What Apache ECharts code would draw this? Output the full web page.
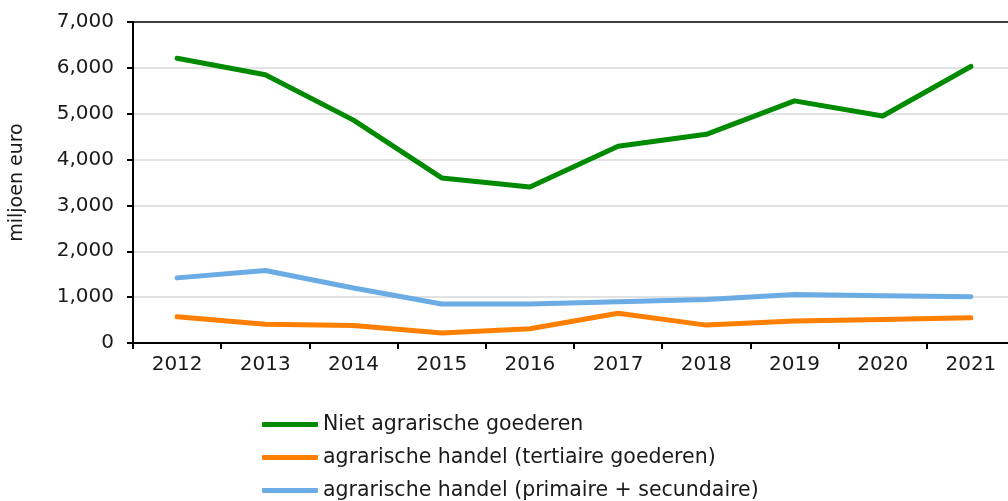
<!DOCTYPE html>
<html>
<head>
<meta charset="utf-8">
<script src="https://cdn.jsdelivr.net/npm/echarts@6/dist/echarts.min.js"></script>
<style>
  html, body { margin: 0; padding: 0; background: #fff; }
  #chart { width: 1008px; height: 501px; }
</style>
</head>
<body>
<div id="chart"></div>
<script>
// jaren
var years = ['2012', '2013', '2014', '2015', '2016', '2017', '2018', '2019', '2020', '2021'];

// miljoen euro
var nietAgrarisch = [6210, 5850, 4860, 3600, 3400, 4290, 4550, 5280, 4950, 6030];
var tertiair = [570, 410, 380, 220, 310, 650, 390, 480, 510, 550];
var primairSecundair = [1420, 1580, 1200, 850, 850, 900, 950, 1060, 1030, 1010];

var names = [
	'Niet agrarische goederen',
	'agrarische handel (tertiaire goederen)',
	'agrarische handel (primaire + secundaire)'
];

var font = 'DejaVu Sans, Verdana, sans-serif';
var chart = echarts.init(document.getElementById('chart'));

function lineSeries(name, data, color) {
	return {
		type: 'line',
		name: name,
		data: data,
		symbol: 'none',
		itemStyle: { color: color },
		lineStyle: { width: 5, color: color, cap: 'round', join: 'round' }
	};
}

chart.setOption({
	animation: false,
	textStyle: { fontFamily: font, color: '#1a1a1a' },
	grid: {
		left: 133,
		top: 22,
		width: 882,
		height: 321,
		outerBoundsMode: 'none',
		containLabel: false
	},
	legend: {
		orient: 'vertical',
		left: 262,
		bottom: 0,
		padding: 0,
		itemWidth: 56,
		itemHeight: 5,
		itemGap: 12,
		icon: 'roundRect',
		textStyle: { fontSize: 20.5, lineHeight: 20, color: '#1a1a1a', fontFamily: font },
		data: names
	},
	xAxis: {
		type: 'category',
		data: years,
		boundaryGap: true,
		axisLine: { lineStyle: { color: '#000', width: 2 } },
		axisTick: { show: true, length: 6, lineStyle: { color: '#000', width: 2 } },
		axisLabel: { fontSize: 20, color: '#1a1a1a', margin: 12 },
		splitLine: { show: false }
	},
	yAxis: {
		type: 'value',
		min: 0,
		max: 7000,
		interval: 1000,
		name: 'miljoen euro',
		nameLocation: 'middle',
		nameGap: 106,
		nameTextStyle: { fontSize: 19, color: '#1a1a1a' },
		axisLine: { show: true, lineStyle: { color: '#000', width: 2 } },
		axisTick: { show: true, length: 6, lineStyle: { color: '#000', width: 2 } },
		axisLabel: {
			fontSize: 20,
			color: '#1a1a1a',
			margin: 19,
			formatter: function (v) { return v.toLocaleString('en-US'); }
		},
		splitLine: {
			show: true,
			lineStyle: {
				width: 1.5,
				color: ['#d9d9d9', '#d9d9d9', '#d9d9d9', '#d9d9d9', '#d9d9d9', '#d9d9d9', '#d9d9d9', '#000']
			}
		}
	},
	series: [
		lineSeries(names[0], nietAgrarisch, '#008a00'),
		lineSeries(names[1], tertiair, '#ff7f00'),
		lineSeries(names[2], primairSecundair, '#6cace4')
	]
});
</script>
</body>
</html>
